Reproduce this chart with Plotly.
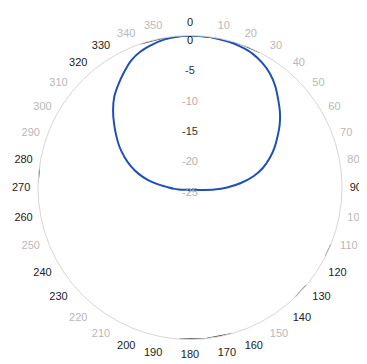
import plotly.graph_objects as go

# ---- data ----
pattern_theta = list(range(0, 365, 5))
pattern_db = [
    0.0, 0.0, -0.1, -0.2, -0.4, -0.7, -1.3, -2.1, -3.2, -4.5,          # 0..45
    -5.7, -7.0, -8.4, -9.7, -11.1, -12.6, -14.4, -16.6, -18.9, -21.0,  # 50..95
    -22.6, -23.4, -23.9, -24.1, -24.3, -24.4, -24.5, -24.5, -24.5, -24.5,  # 100..145
    -24.5, -24.5, -24.6, -24.6, -24.6, -24.6, -24.6, -24.6, -24.6, -24.5,  # 150..195
    -24.5, -24.5, -24.5, -24.5, -24.5, -24.5, -24.4, -24.4, -24.3, -24.1,  # 200..245
    -23.9, -23.6, -23.1, -22.4, -21.5, -20.0, -18.0, -16.2, -14.6, -13.1,  # 250..295
    -11.6, -10.2, -8.7, -7.1, -5.6, -4.4, -3.2, -2.0, -1.2, -0.7,        # 300..345
    -0.3, -0.1, 0.0,                                                    # 350..360
]

# dark (visible) pieces of the outer 0 dB ring in the scan
ring_theta = [341, 350, 0, 10, 20, 27, None, 112, 117, None, 130, 136, None, 164, 174, 184, None, 272, 278]
ring_db = [0, 0, 0, 0, 0, 0, None, 0, 0, None, 0, 0, None, 0, 0, 0, None, 0, 0]

angle_ticks = list(range(0, 360, 10))
dark_angle_labels = [0, 90, 120, 130, 140, 160, 170, 180, 190, 200, 230, 240, 260, 270, 280, 320, 330]

radial_ticks = [0, -5, -10, -15, -20, -25]
radial_labels = ["0", "-5", "-10", "-15", "-20", "-25"]
radial_label_colors = ["#111111", "#333333", "#b0b0b0", "#333333", "#b0b0b0", "#b0b0b0"]

# ---- figure ----
ticktext = []
for a in angle_ticks:
    col = "#222222" if a in dark_angle_labels else "#b8b8b8"
    ticktext.append(f'<span style="color:{col}">{a}</span>')

fig = go.Figure()
fig.add_trace(go.Scatterpolar(
    r=ring_db, theta=ring_theta, mode="lines",
    line=dict(color="#333333", width=1.3), connectgaps=False,
    hoverinfo="skip", cliponaxis=False))
fig.add_trace(go.Scatterpolar(
    r=pattern_db, theta=pattern_theta, mode="lines",
    line=dict(color="#1f4fb8", width=2, shape="spline", smoothing=0.8), cliponaxis=False))
fig.add_trace(go.Scatterpolar(
    r=radial_ticks, theta=[0] * len(radial_ticks), mode="text",
    text=radial_labels, textposition="bottom center",
    textfont=dict(family="Liberation Sans, Arial, sans-serif", size=11, color=radial_label_colors),
    cliponaxis=False, hoverinfo="skip"))

fig.update_layout(
    width=359, height=356,
    margin=dict(l=0, r=0, t=0, b=0),
    paper_bgcolor="white",
    showlegend=False,
    font=dict(family="Liberation Sans, Arial, sans-serif", size=11, color="#222222"),
    polar=dict(
        domain=dict(x=[0.0836, 0.9304], y=[0.0688, 0.9228]),
        bgcolor="white",
        angularaxis=dict(
            rotation=90, direction="clockwise",
            tickmode="array", tickvals=angle_ticks, ticktext=ticktext,
            showgrid=False, ticks="outside", ticklen=5, tickcolor="rgba(0,0,0,0)",
            showline=True, linecolor="#d6d6d6", linewidth=1,
            tickfont=dict(size=11),
        ),
        radialaxis=dict(
            range=[-25, 0], showticklabels=False, showgrid=False,
            showline=False, ticks="",
        ),
    ),
)

fig.write_html("out.html")
